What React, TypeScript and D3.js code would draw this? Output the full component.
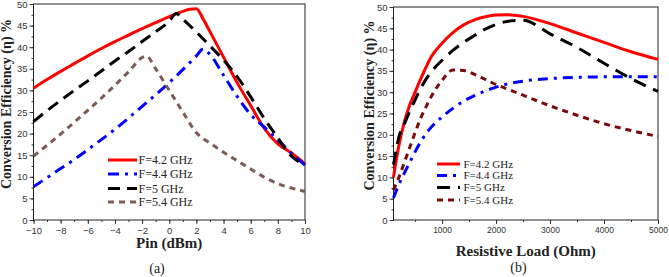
import { useEffect, useRef } from 'react';
import * as d3 from 'd3';

// ---- panel (a): efficiency vs input power ----
const pinRed = [-10, -9, -8, -7, -6, -5, -4, -3, -2, -1, 0, 1, 1.5, 2, 2.5, 3, 4, 5, 6, 7, 8, 9, 10];
const effRedA = [30.5, 32.5, 34.4, 36.2, 38.0, 39.7, 41.3, 42.8, 44.3, 45.7, 47.1, 48.3, 48.8, 48.9, 46.5, 43.6, 37.7, 31.8, 26.5, 21.2, 17.6, 15.5, 13.0];

const pinBlue = [-10, -9, -8, -7, -6, -5, -4, -3, -2, -1, 0, 1, 2, 2.5, 3, 4, 5, 6, 7, 8, 9, 10];
const effBlueA = [7.7, 9.8, 11.9, 14.0, 16.3, 18.6, 21.0, 23.6, 26.3, 29.0, 31.8, 34.8, 38.0, 39.6, 38.3, 33.5, 28.6, 24.4, 21.5, 18.5, 15.5, 12.7];

const pinBlack = [-10, -9, -8, -7, -6, -5, -4, -3, -2, -1, 0, 0.5, 1, 2, 3, 4, 5, 6, 7, 8, 9, 10];
const effBlackA = [22.8, 25.3, 27.7, 30.0, 32.2, 34.5, 36.8, 39.0, 41.3, 43.6, 46.0, 47.8, 46.5, 43.5, 40.3, 37.0, 33.2, 28.5, 23.5, 19.0, 14.8, 12.7];

const pinBrown = [-10, -9, -8, -7, -6, -5, -4, -3, -2, -1.7, -1, 0, 1, 2, 3, 4, 5, 6, 7, 8, 9, 10];
const effBrownA = [14.8, 17.3, 19.9, 22.6, 25.4, 28.2, 31.2, 34.3, 37.6, 38.0, 35.0, 30.0, 25.0, 20.2, 17.8, 15.7, 13.7, 11.8, 9.9, 8.4, 7.4, 6.6];

// ---- panel (b): efficiency vs resistive load ----
const loads = [100, 150, 200, 300, 400, 500, 600, 700, 800, 1000, 1200, 1400, 1600, 1800, 2000, 2200, 2500, 3000, 3500, 4000, 4500, 5000];
const effRedB = [10, 14, 17.5, 23, 27, 30, 33, 35.8, 38.3, 41.5, 44, 45.8, 47, 47.7, 48.1, 48.2, 47.8, 46.1, 43.9, 41.7, 39.5, 37.7];
const effBlueB = [5.2, 6.8, 8.3, 11, 13.5, 16, 18.3, 20.2, 21.8, 24.2, 26.2, 27.9, 29.2, 30.3, 31.2, 31.9, 32.6, 33.2, 33.5, 33.6, 33.6, 33.6];
const effBlackB = [13, 16.5, 19.5, 22.5, 25.5, 28.2, 30.8, 33.0, 34.8, 37.5, 39.8, 41.7, 43.3, 44.8, 45.9, 46.6, 46.9, 43.7, 40.5, 36.8, 33.2, 30.2];
const effBrownB = [7, 8.5, 10, 13.5, 17, 20.5, 23.8, 26.5, 29, 32.8, 35.2, 35.1, 34.2, 33, 31.8, 30.8, 29.3, 26.8, 24.6, 22.6, 21, 19.6];

const legendLabels = ['F=4.2 GHz', 'F=4.4 GHz', 'F=5 GHz', 'F=5.4 GHz'];
const yTicks = [0, 5, 10, 15, 20, 25, 30, 35, 40, 45, 50];
const pinTicks = [-10, -8, -6, -4, -2, 0, 2, 4, 6, 8, 10];
const loadTicks = [1000, 2000, 3000, 4000, 5000];

const W = 669;
const H = 277;
const SERIF = 'Liberation Serif, Times New Roman, Times, DejaVu Serif, serif';
const SANS = 'Liberation Sans, Arial, sans-serif';

interface Series {
  xs: number[];
  ys: number[];
  color: string;
  dash: string | null;
}

interface PanelCfg {
  left: number;
  right: number;
  top: number;
  bottom: number;
  xDomain: [number, number];
  xTicks: number[];
  xMinor: number[];
  xFont: number;
  series: Series[];
  xTitle: string;
  xTitleY: number;
  yTitleX: number;
  tag: string;
  tagX: number;
  tagY: number;
  legend: { x0: number; x1: number; tx: number; rows: number[]; font: number };
}

const drawPanel = (svg: d3.Selection<SVGSVGElement, unknown, null, undefined>, c: PanelCfg) => {
  const x = d3.scaleLinear().domain(c.xDomain).range([c.left, c.right]);
  const y = d3.scaleLinear().domain([0, 50]).range([c.bottom, c.top]);
  const g = svg.append('g');

  // minor ticks
  const yMinor = d3.range(0, 50.1, 2.5);
  g.append('g')
    .attr('transform', `translate(${c.left},0)`)
    .call(d3.axisLeft(y).tickValues(yMinor).tickSize(2).tickFormat(() => ''))
    .call((a) => a.select('.domain').remove());
  g.append('g')
    .attr('transform', `translate(0,${c.bottom})`)
    .call(d3.axisBottom(x).tickValues(c.xMinor).tickSize(2).tickFormat(() => ''))
    .call((a) => a.select('.domain').remove());

  const yAxis = g
    .append('g')
    .attr('transform', `translate(${c.left},0)`)
    .call(d3.axisLeft(y).tickValues(yTicks).tickSize(4).tickPadding(2));
  yAxis.select('.domain').remove();
  yAxis.selectAll('text').style('font-size', '9.5px').attr('fill', '#333');

  const xAxis = g
    .append('g')
    .attr('transform', `translate(0,${c.bottom})`)
    .call(d3.axisBottom(x).tickValues(c.xTicks).tickSize(4).tickPadding(3).tickFormat(d3.format('d')));
  xAxis.select('.domain').remove();
  xAxis.selectAll('text').style('font-size', `${c.xFont}px`).attr('fill', '#333');

  g.selectAll('.tick line').attr('stroke', '#333');
  g.selectAll('.tick text').style('font-family', SANS);

  g.append('rect')
    .attr('x', c.left)
    .attr('y', c.top)
    .attr('width', c.right - c.left)
    .attr('height', c.bottom - c.top)
    .attr('fill', 'none')
    .attr('stroke', '#222')
    .attr('stroke-width', 1);

  const line = d3
    .line<[number, number]>()
    .x((d) => x(d[0]))
    .y((d) => y(d[1]))
    .curve(d3.curveMonotoneX);

  c.series.forEach((s) => {
    const pts = s.xs.map((v, i) => [v, s.ys[i]] as [number, number]);
    g.append('path')
      .attr('d', line(pts))
      .attr('fill', 'none')
      .attr('stroke', s.color)
      .attr('stroke-width', 3)
      .attr('stroke-dasharray', s.dash)
      .attr('stroke-linecap', 'butt');
  });

  // legend
  const lg = g.append('g');
  c.series.forEach((s, i) => {
    const ry = c.legend.rows[i];
    lg.append('line')
      .attr('x1', c.legend.x0)
      .attr('x2', c.legend.x1)
      .attr('y1', ry)
      .attr('y2', ry)
      .attr('stroke', s.color)
      .attr('stroke-width', 3)
      .attr('stroke-dasharray', s.dash);
    lg.append('text')
      .attr('x', c.legend.tx)
      .attr('y', ry)
      .attr('dy', '0.35em')
      .style('font-family', SERIF)
      .style('font-size', `${c.legend.font}px`)
      .attr('fill', '#222')
      .text(legendLabels[i]);
  });

  g.append('text')
    .attr('x', (c.left + c.right) / 2)
    .attr('y', c.xTitleY)
    .attr('text-anchor', 'middle')
    .style('font-family', SERIF)
    .style('font-weight', 'bold')
    .style('font-size', '15px')
    .attr('fill', '#222')
    .text(c.xTitle);

  g.append('text')
    .attr('transform', `translate(${c.yTitleX},${(c.top + c.bottom) / 2 - 8}) rotate(-90)`)
    .attr('text-anchor', 'middle')
    .style('font-family', SERIF)
    .style('font-weight', 'bold')
    .style('font-size', '14px')
    .attr('fill', '#222')
    .text('Conversion Efficiency (η) %');

  g.append('text')
    .attr('x', c.tagX)
    .attr('y', c.tagY)
    .attr('text-anchor', 'middle')
    .style('font-family', SERIF)
    .style('font-size', '14px')
    .attr('fill', '#222')
    .text(c.tag);
};

export default function App() {
  const svgRef = useRef<SVGSVGElement>(null);

  useEffect(() => {
    if (!svgRef.current) return;
    const svg = d3.select(svgRef.current);
    svg.selectAll('*').remove();

    drawPanel(svg, {
      left: 33.5,
      right: 305,
      top: 4,
      bottom: 220,
      xDomain: [-10, 10],
      xTicks: pinTicks,
      xMinor: d3.range(-10, 10.1, 1),
      xFont: 9.5,
      series: [
        { xs: pinRed, ys: effRedA, color: '#ff0000', dash: null },
        { xs: pinBlue, ys: effBlueA, color: '#0000ff', dash: '11,6,3,6' },
        { xs: pinBlack, ys: effBlackA, color: '#000000', dash: '12,7' },
        { xs: pinBrown, ys: effBrownA, color: '#7d5a56', dash: '6,5' },
      ],
      xTitle: 'Pin (dBm)',
      xTitleY: 248,
      yTitleX: 11,
      tag: '(a)',
      tagX: 157,
      tagY: 273,
      legend: { x0: 108, x1: 137, tx: 138.5, rows: [160, 174, 188.5, 202], font: 12 },
    });

    drawPanel(svg, {
      left: 393.5,
      right: 658,
      top: 7,
      bottom: 220,
      xDomain: [100, 5000],
      xTicks: loadTicks,
      xMinor: d3.range(500, 5001, 500),
      xFont: 8.5,
      series: [
        { xs: loads, ys: effRedB, color: '#ff0000', dash: null },
        { xs: loads, ys: effBlueB, color: '#0000ff', dash: '10,6,3,6' },
        { xs: loads, ys: effBlackB, color: '#000000', dash: '13,8' },
        { xs: loads, ys: effBrownB, color: '#7a0a0a', dash: '6,5' },
      ],
      xTitle: 'Resistive Load (Ohm)',
      xTitleY: 256,
      yTitleX: 374,
      tag: '(b)',
      tagX: 518.5,
      tagY: 272,
      legend: { x0: 437, x1: 460, tx: 463.5, rows: [164, 175.5, 187.5, 200], font: 11 },
    });
  }, []);

  return (
    <svg
      ref={svgRef}
      width={W}
      height={H}
      style={{ position: 'absolute', left: 0, top: 0, background: '#fff' }}
    />
  );
}
